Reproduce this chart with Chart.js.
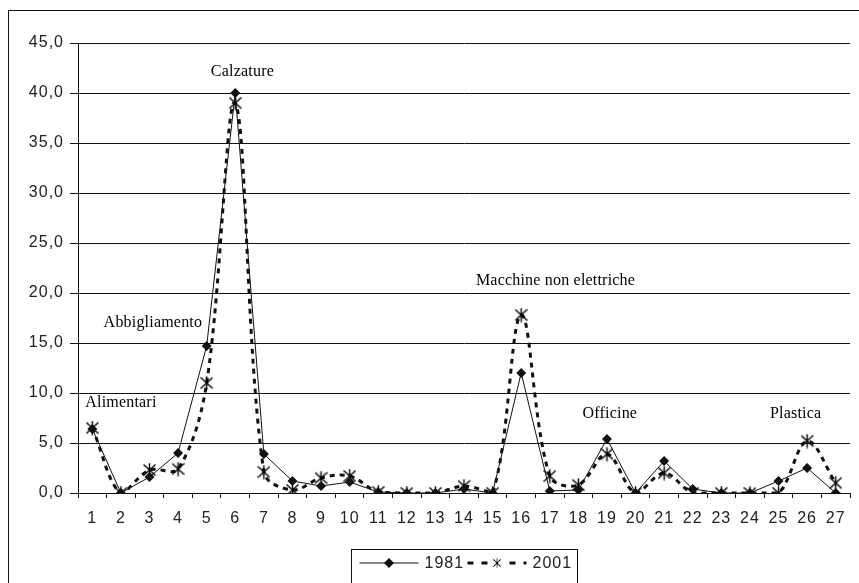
<!DOCTYPE html>
<html><head><meta charset="utf-8">
<script src="https://cdn.jsdelivr.net/npm/chart.js@4/dist/chart.umd.min.js"></script>
<style>html,body{margin:0;padding:0;background:#fff;}#wrap{width:859px;height:583px;}</style>
</head><body><div id="wrap"><canvas id="c" width="859" height="583"></canvas></div>
<script>
const categories = ['1','2','3','4','5','6','7','8','9','10','11','12','13','14','15','16','17','18','19','20','21','22','23','24','25','26','27'];
const values1981 = [6.4, 0.0, 1.6, 4.0, 14.7, 40.0, 3.9, 1.2, 0.7, 1.1, 0.1, 0.0, 0.0, 0.4, 0.0, 12.0, 0.2, 0.3, 5.4, 0.0, 3.2, 0.4, 0.0, 0.0, 1.2, 2.5, 0.0];
const values2001 = [6.5, 0.0, 2.3, 2.4, 11.0, 39.0, 2.1, 0.3, 1.5, 1.7, 0.1, 0.0, 0.0, 0.7, 0.0, 17.8, 1.7, 0.8, 3.9, 0.0, 2.0, 0.0, 0.0, 0.0, 0.0, 5.2, 1.0];
const seriesNames = ['1981', '2001'];
const yTicks = [0, 5, 10, 15, 20, 25, 30, 35, 40, 45];
const noteLabels = ['Alimentari', 'Abbigliamento', 'Calzature', 'Macchine non elettriche', 'Officine', 'Plastica'];
const noteX = [2.0, 3.12, 6.25, 17.2, 19.1, 25.6];
const noteY = [9.0, 17.0, 42.1, 21.2, 7.9, 7.9];

const INK = '#111';

// asterisk marker (X + vertical bar)
function makeAsterisk() {
  const c = document.createElement('canvas');
  c.width = 13; c.height = 15;
  const g = c.getContext('2d');
  g.strokeStyle = '#000'; g.lineWidth = 1.4;
  g.beginPath();
  g.moveTo(6.5, 0.5); g.lineTo(6.5, 14.5);
  g.moveTo(0.5, 2); g.lineTo(12.5, 13);
  g.moveTo(12.5, 2); g.lineTo(0.5, 13);
  g.stroke();
  return c;
}
const asterisk = makeAsterisk();

const framePlugin = {
  id: 'frame',
  beforeUpdate(chart) { chart.ctx.letterSpacing = '1px'; },
  beforeDraw(chart) {
    const ctx = chart.ctx;
    ctx.letterSpacing = '1px';
    ctx.save();
    ctx.fillStyle = '#fff';
    ctx.fillRect(0, 0, chart.width, chart.height);
    ctx.strokeStyle = INK; ctx.lineWidth = 1;
    ctx.strokeRect(8.5, 10.5, 1000, 1000);
    ctx.restore();
  }
};

const notesPlugin = {
  id: 'notes',
  afterDatasetsDraw(chart) {
    const ctx = chart.ctx, xs = chart.scales.x, ys = chart.scales.y;
    const x0 = xs.getPixelForValue(0), step = xs.getPixelForValue(1) - x0;
    ctx.save();
    ctx.font = '16px "Liberation Serif", "Times New Roman", serif';
    ctx.letterSpacing = '0.2px';
    ctx.fillStyle = '#000';
    ctx.textAlign = 'center'; ctx.textBaseline = 'middle';
    noteLabels.forEach((t, i) => {
      ctx.fillText(t, x0 + (noteX[i] - 1) * step, ys.getPixelForValue(noteY[i]));
    });
    ctx.restore();
  }
};

const legendPlugin = {
  id: 'boxLegend',
  afterDraw(chart) {
    const ctx = chart.ctx, area = chart.chartArea;
    const cx = (area.left + area.right) / 2;
    const boxW = 226, left = Math.round(cx - boxW / 2) + 0.5, top = 549.5;
    ctx.save();
    ctx.strokeStyle = INK; ctx.lineWidth = 1;
    ctx.strokeRect(left, top, boxW, 60);
    ctx.font = '16px "Liberation Sans", Arial, sans-serif';
    ctx.letterSpacing = '1px';
    ctx.textBaseline = 'middle'; ctx.textAlign = 'left';
    const ty = 563;
    chart.data.datasets.forEach((ds, i) => {
      const sx = left + 8 + i * 108;
      const ex = sx + 59;
      ctx.save();
      ctx.strokeStyle = INK;
      ctx.lineWidth = ds.borderWidth;
      ctx.setLineDash(ds.borderDash ? [6, 8] : []);
      ctx.beginPath(); ctx.moveTo(sx, ty); ctx.lineTo(ex, ty); ctx.stroke();
      ctx.restore();
      const mx = (sx + ex) / 2;
      if (i === 0) {
        ctx.beginPath();
        ctx.moveTo(mx, ty - 5); ctx.lineTo(mx + 5, ty); ctx.lineTo(mx, ty + 5); ctx.lineTo(mx - 5, ty);
        ctx.closePath(); ctx.fillStyle = INK; ctx.fill();
      } else {
        ctx.fillStyle = '#fff';
        ctx.fillRect(mx - 5, ty - 6, 10, 12);
        ctx.drawImage(asterisk, mx - 4, ty - 5, 8, 10);
      }
      ctx.fillStyle = '#222';
      ctx.fillText(ds.label, ex + 6, ty + 1);
    });
    ctx.restore();
  }
};

new Chart(document.getElementById('c'), {
  type: 'line',
  data: {
    labels: categories,
    datasets: [
      {
        label: seriesNames[0], data: values1981,
        borderColor: INK, borderWidth: 1, tension: 0,
        pointStyle: 'rectRot', pointRadius: 5, pointBackgroundColor: INK, pointBorderColor: INK, pointBorderWidth: 0
      },
      {
        label: seriesNames[1], data: values2001,
        borderColor: INK, borderWidth: 3, borderDash: [5, 5], tension: 0.35,
        pointStyle: asterisk, pointRadius: 6
      }
    ]
  },
  options: {
    responsive: false, animation: false, devicePixelRatio: 1,
    layout: { padding: { left: 8, top: 43, right: 5, bottom: 0 } },
    plugins: { legend: { display: false }, title: { display: false }, tooltip: { enabled: false } },
    scales: {
      x: {
        offset: true,
        grid: { display: true, drawOnChartArea: false, drawTicks: true, tickLength: 5, color: INK, offset: true },
        border: { display: true, color: INK, width: 1 },
        ticks: { color: '#222', font: { family: '"Liberation Sans", Arial, sans-serif', size: 16 }, padding: 11, maxRotation: 0, autoSkip: false },
        afterFit(s) { s.height = 90; }
      },
      y: {
        min: 0, max: 45,
        afterBuildTicks(s) { s.ticks = yTicks.map(v => ({ value: v })); },
        grid: { color: INK, lineWidth: 1, tickLength: 8, drawTicks: true },
        border: { display: true, color: INK, width: 1 },
        ticks: { color: '#222', font: { family: '"Liberation Sans", Arial, sans-serif', size: 16 }, padding: 6,
          callback: v => v.toFixed(1).replace('.', ',') },
        afterFit(s) { s.width = 70; }
      }
    }
  },
  plugins: [framePlugin, notesPlugin, legendPlugin]
});
</script>
</body></html>
